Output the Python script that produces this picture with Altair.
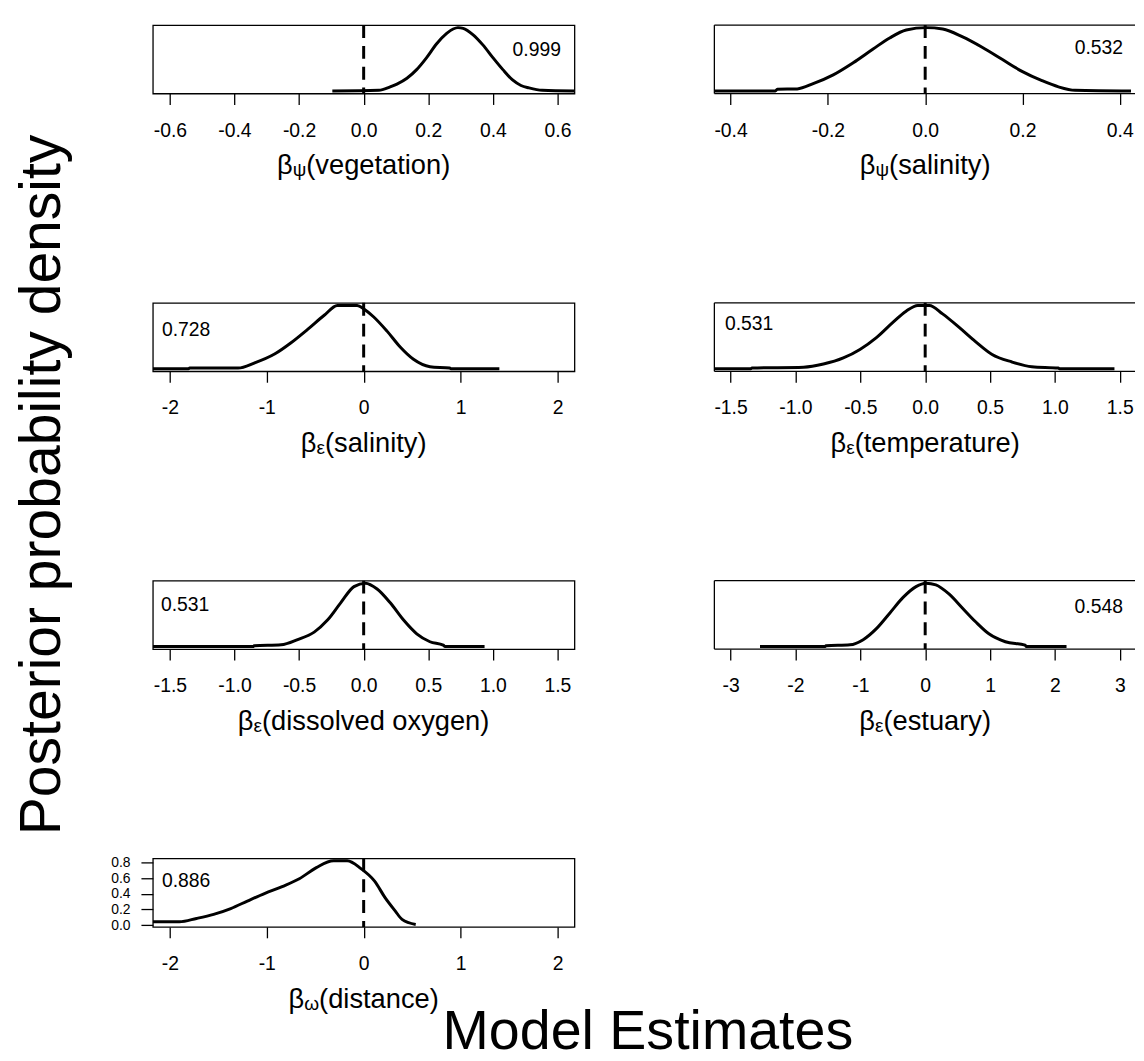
import altair as alt
import pandas as pd

FONT = "Liberation Sans"

# ---------------- data ----------------
VEG_X = [-0.097, 0.047, 0.082, 0.103, 0.134, 0.164, 0.195, 0.226, 0.257, 0.277, 0.292,
         0.308, 0.338, 0.369, 0.400, 0.431, 0.461, 0.487, 0.512, 0.553, 0.652]
VEG_Y = [0.0, 0.011, 0.065, 0.109, 0.201, 0.337, 0.527, 0.745, 0.908, 0.978, 1.0,
         0.989, 0.891, 0.728, 0.527, 0.337, 0.174, 0.087, 0.049, 0.011, 0.0]

PSI_SAL_X = [-0.433, -0.308, -0.304, -0.263, -0.229, -0.189, -0.148, -0.107, -0.073, -0.039,
             0.002, 0.036, 0.077, 0.117, 0.158, 0.199, 0.240, 0.274, 0.308, 0.423]
PSI_SAL_Y = [0.0, 0.0, 0.027, 0.033, 0.12, 0.255, 0.446, 0.663, 0.837, 0.962,
             1.0, 0.978, 0.853, 0.690, 0.5, 0.31, 0.163, 0.065, 0.011, 0.0]

EPS_SAL_X = [-2.175, -1.807, -1.795, -1.295, -1.124, -0.919, -0.749, -0.578, -0.407, -0.271,
             -0.067, 0.002, 0.104, 0.241, 0.377, 0.514, 0.684, 0.888, 0.900, 1.400]
EPS_SAL_Y = [0.0, 0.0, 0.012, 0.012, 0.094, 0.233, 0.411, 0.622, 0.844, 1.0,
             1.0, 0.944, 0.817, 0.594, 0.344, 0.15, 0.033, 0.011, 0.0, 0.0]

EPS_TEMP_X = [-1.625, -1.344, -1.335, -0.937, -0.784, -0.631, -0.503, -0.376, -0.249, -0.147,
              -0.057, 0.032, 0.134, 0.262, 0.388, 0.516, 0.669, 0.822, 1.026, 1.035, 1.459]
EPS_TEMP_Y = [0.0, 0.0, 0.011, 0.025, 0.075, 0.171, 0.305, 0.492, 0.733, 0.909,
              1.0, 1.0, 0.866, 0.652, 0.428, 0.225, 0.107, 0.032, 0.011, 0.0, 0.0]

EPS_DO_X = [-1.632, -0.856, -0.848, -0.639, -0.511, -0.383, -0.280, -0.178, -0.075, 0.014,
            0.104, 0.206, 0.309, 0.411, 0.513, 0.616, 0.630, 0.936]
EPS_DO_Y = [0.0, 0.0, 0.012, 0.027, 0.109, 0.228, 0.418, 0.690, 0.946, 1.0,
            0.908, 0.690, 0.418, 0.201, 0.076, 0.022, 0.0, 0.0]

EPS_EST_X = [-2.546, -1.541, -1.530, -1.159, -0.956, -0.752, -0.547, -0.344, -0.141, 0.012,
             0.165, 0.370, 0.573, 0.777, 0.982, 1.236, 1.541, 1.560, 2.179]
EPS_EST_Y = [0.0, 0.0, 0.012, 0.027, 0.109, 0.283, 0.527, 0.772, 0.946, 1.0,
             0.973, 0.826, 0.609, 0.391, 0.201, 0.076, 0.022, 0.0, 0.0]

OMG_X = [-2.175, -1.901, -1.724, -1.548, -1.371, -1.194, -1.018, -0.841, -0.664, -0.488,
         -0.311, -0.170, -0.028, 0.113, 0.219, 0.325, 0.396, 0.537]
OMG_Y = [0.043, 0.043, 0.086, 0.138, 0.212, 0.311, 0.406, 0.493, 0.592, 0.735,
         0.822, 0.822, 0.722, 0.562, 0.355, 0.182, 0.074, 0.009]

XS = [VEG_X, PSI_SAL_X, EPS_SAL_X, EPS_TEMP_X, EPS_DO_X, EPS_EST_X, OMG_X]
YS = [VEG_Y, PSI_SAL_Y, EPS_SAL_Y, EPS_TEMP_Y, EPS_DO_Y, EPS_EST_Y, OMG_Y]

TITLE_SUB = ["ψ", "ψ", "ε", "ε", "ε", "ε", "ω"]
TITLE_REST = ["(vegetation)", "(salinity)", "(salinity)", "(temperature)",
              "(dissolved oxygen)", "(estuary)", "(distance)"]
NOTES = ["0.999", "0.532", "0.728", "0.531", "0.531", "0.548", "0.886"]
NOTE_X = [0.536, 0.357, -1.832, -1.357, -1.382, 2.676, -1.832]
NOTE_Y = [0.555, 0.586, 0.514, 0.613, 0.555, 0.523, 0.487]
HALF_RANGE = [0.6527, 0.4333, 2.175, 1.625, 1.632, 3.25, 2.175]
TICKS = [
    [-0.6, -0.4, -0.2, 0.0, 0.2, 0.4, 0.6],
    [-0.4, -0.2, 0.0, 0.2, 0.4],
    [-2, -1, 0, 1, 2],
    [-1.5, -1.0, -0.5, 0.0, 0.5, 1.0, 1.5],
    [-1.5, -1.0, -0.5, 0.0, 0.5, 1.0, 1.5],
    [-3, -2, -1, 0, 1, 2, 3],
    [-2, -1, 0, 1, 2],
]
FORMATS = [".1f", ".1f", "d", ".1f", ".1f", "d", "d"]
Y_TICKS = [0.0, 0.2, 0.4, 0.6, 0.8]

# ---------------- layout constants ----------------
LW = 425      # left column plot width
RW = 420      # right column plot width (reference is cut at the page edge)
PH = 69       # plot height
TFS = 27.5    # axis title font size
SFS = 19.25   # subscript font size
LFS = 19.5    # tick label font size
YLFS = 14     # crowded y tick labels of the last panel
BIG = 57.5    # y outer title
BIGX = 56     # x outer title

WID = {'(': 0.333, ')': 0.333, 'a': 0.556, 'c': 0.5, 'd': 0.556, 'e': 0.556, 'g': 0.556,
       'i': 0.222, 'l': 0.222, 'n': 0.556, 'o': 0.556, 'r': 0.333, 's': 0.5, 't': 0.278,
       'u': 0.556, 'v': 0.5, 'x': 0.5, 'y': 0.5, ' ': 0.278, 'm': 0.833, 'p': 0.556,
       'q': 0.556, 'b': 0.556, 'β': 0.575, 'ψ': 0.712, 'ε': 0.445, 'ω': 0.781}

MINUS_FIX = "replace(datum.label, '\u2212', '-')"


def text_chart(s, x, y, fs, align="left", angle=None):
    kw = dict(align=align, baseline="alphabetic", font=FONT, fontSize=fs, color="black")
    if angle is not None:
        kw["angle"] = angle
    return alt.Chart(pd.DataFrame({"t": [s]})).mark_text(**kw).encode(
        text="t:N", x=alt.value(x), y=alt.value(y))


def title_marks(sub, rest, cx, ybase):
    wb = WID['β'] * TFS
    ws = WID[sub] * SFS
    wr = sum(WID[c] for c in rest) * TFS
    x0 = cx - (wb + ws + wr) / 2
    return [text_chart("β", x0, ybase, TFS),
            text_chart(sub, x0 + wb, ybase + 2, SFS),
            text_chart(rest, x0 + wb + ws, ybase, TFS)]


def panel(i):
    left = (i % 2 == 0)
    width = LW if left else RW
    D = HALF_RANGE[i]
    dom = [-D, D] if left else [-D, -D + 2 * D * RW / LW]
    ydom = [-0.022, 0.852] if i == 6 else [-0.04, 1.04]
    xscale = alt.Scale(domain=dom, nice=False, zero=False)
    yscale = alt.Scale(domain=ydom, nice=False, zero=False)
    xaxis = alt.Axis(values=TICKS[i], format=FORMATS[i], labelExpr=MINUS_FIX,
                     title=None, grid=False, domain=False, labelOverlap=False,
                     tickCount=20)
    if i == 6:
        yaxis = alt.Axis(values=Y_TICKS, format=".1f", title=None, grid=False,
                         domain=False, labelOverlap=False, labelBound=False,
                         labelFlush=False, tickCount=20, labelFontSize=YLFS)
    else:
        yaxis = None
    df = pd.DataFrame({"x": XS[i], "y": YS[i]})
    line = alt.Chart(df).mark_line(color="black", strokeWidth=3, clip=True,
                                   interpolate="monotone").encode(
        x=alt.X("x:Q", scale=xscale, axis=xaxis),
        y=alt.Y("y:Q", scale=yscale, axis=yaxis))
    zero = alt.Chart(pd.DataFrame({"x": [0.0]})).mark_rule(
        color="black", strokeWidth=3, strokeDash=[13, 8]).encode(x="x:Q")
    note = alt.Chart(pd.DataFrame({"x": [NOTE_X[i]], "y": [NOTE_Y[i]], "t": [NOTES[i]]})).mark_text(
        align="center", baseline="alphabetic", font=FONT, fontSize=LFS, color="black"
    ).encode(x="x:Q", y="y:Q", text="t:N")
    layers = [line, zero, note] + title_marks(TITLE_SUB[i], TITLE_REST[i], LW / 2, PH + 81.5)
    props = dict(width=width, height=PH)
    if not left:
        fd = pd.DataFrame({"a": [0]})
        layers += [
            alt.Chart(fd).mark_rule(color="black", strokeWidth=1.3).encode(
                x=alt.value(0), x2=alt.value(width + 4), y=alt.value(0)),
            alt.Chart(fd).mark_rule(color="black", strokeWidth=1.3).encode(
                x=alt.value(0), x2=alt.value(width + 4), y=alt.value(PH)),
            alt.Chart(fd).mark_rule(color="black", strokeWidth=1.3).encode(
                x=alt.value(0), y=alt.value(0), y2=alt.value(PH)),
        ]
        props["view"] = alt.ViewBackground(strokeOpacity=0)
    return alt.layer(*layers).properties(**props)


def spacer(extra=None):
    base = alt.Chart(pd.DataFrame({"t": [""]})).mark_text().encode(
        text="t:N", x=alt.value(0), y=alt.value(0))
    layers = [base] + (extra or [])
    return alt.layer(*layers).properties(width=5, height=PH,
                                         view=alt.ViewBackground(strokeOpacity=0))


big = [
    text_chart("Posterior probability density", 52.5, 463.5, BIG, align="center", angle=270),
    text_chart("Model Estimates", 645, 1032, BIGX, align="center"),
]

cells = []
for r in range(4):
    cells.append(spacer(big if r == 0 else None))
    cells.append(panel(2 * r))
    if 2 * r + 1 < 7:
        cells.append(panel(2 * r + 1))

chart = alt.concat(
    *cells, columns=3, spacing={"row": 211, "column": 141}, bounds="flush", align="each"
).properties(
    padding={"left": 0, "top": 7, "right": 0, "bottom": 1}
).configure_view(
    stroke="black", strokeWidth=1.3
).configure_axis(
    labelFont=FONT, labelFontSize=LFS, labelColor="black", tickColor="black",
    tickWidth=1.3, tickSize=11, labelFlush=False, labelOverlap=False
).configure_axisX(
    labelPadding=32, labelBaseline="alphabetic"
).configure_axisY(
    labelPadding=11, tickSize=12
)

chart.save("out.html", embed_options={"renderer": "svg", "actions": False})
